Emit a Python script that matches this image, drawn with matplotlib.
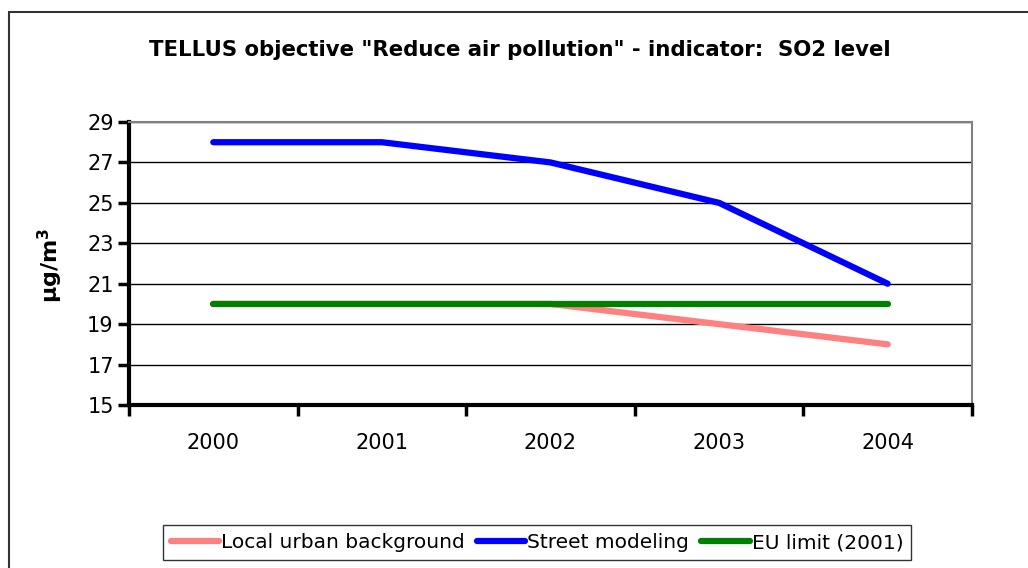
import matplotlib.pyplot as plt
from matplotlib.lines import Line2D
from matplotlib.patches import Rectangle

plt.rcParams['font.family'] = ['DejaVu Sans']
plt.rcParams['mathtext.fontset'] = 'custom'
plt.rcParams['mathtext.rm'] = 'DejaVu Sans:bold'
plt.rcParams['mathtext.bf'] = 'DejaVu Sans:bold'

years = ["2000", "2001", "2002", "2003", "2004"]
local_urban = [20, 20, 20, 19, 18]
street_modeling = [28, 28, 27, 25, 21]
eu_limit = [20, 20, 20, 20, 20]

series = [
    ("Local urban background", local_urban, "#FF8080"),
    ("Street modeling", street_modeling, "#0000FF"),
    ("EU limit (2001)", eu_limit, "#008000"),
]

fig = plt.figure(figsize=(10.28, 5.68), dpi=100)
ax = fig.add_axes([0.1255, 0.287, 0.82, 0.4982])

x = list(range(len(years)))
for label, vals, color in series:
    ax.plot(x, vals, color=color, lw=4.5, solid_capstyle='round', label=label, zorder=3)

ax.set_xlim(-0.5, len(years) - 0.5)
ax.set_ylim(15, 29)
ax.set_yticks(range(15, 30, 2))
ax.set_xticks([i - 0.5 for i in range(len(years) + 1)])
ax.set_xticklabels([])
ax.set_xticks(x, minor=True)
ax.set_xticklabels(years, minor=True)
ax.tick_params(axis='x', which='minor', length=0, pad=20, labelsize=15)
ax.tick_params(axis='x', which='major', length=8, width=2.5, direction='out')
ax.tick_params(axis='y', length=8, width=2.5, direction='out', labelsize=15, pad=3)

ax.yaxis.grid(True, color='black', lw=1)
ax.set_axisbelow(True)
for s in ['top', 'right']:
    ax.spines[s].set_color('#808080')
    ax.spines[s].set_linewidth(1.5)
for s in ['left', 'bottom']:
    ax.spines[s].set_color('black')
    ax.spines[s].set_linewidth(3)

fig.text(0.506, 0.912, 'TELLUS objective "Reduce air pollution" - indicator:  SO2 level',
         ha='center', va='center', fontsize=15.3, fontweight='bold')
fig.text(0.049, 0.533, r'µg/m$^{3}$', rotation=90, ha='center', va='center',
         fontsize=16, fontweight='bold')

handles = [Line2D([], [], color=c, lw=4.5, solid_capstyle='round') for _, _, c in series]
leg = fig.legend(handles, [s[0] for s in series], loc='lower center',
                 bbox_to_anchor=(0.5225, -0.004), ncol=3, fontsize=14.5,
                 frameon=True, fancybox=False, handlelength=2.4, handletextpad=0.1,
                 columnspacing=0.6, borderpad=0.4, borderaxespad=0.5)
leg.get_frame().set_edgecolor('black')
leg.get_frame().set_linewidth(1)

# chart area border (only top and left visible in the crop)
fig.patches.append(Rectangle((9 / 1028, -0.1), 1.2, 1 - 12 / 568 + 0.1,
                             transform=fig.transFigure, fill=False,
                             edgecolor='#333333', lw=1.5))

fig.savefig('out.png', dpi=100)
